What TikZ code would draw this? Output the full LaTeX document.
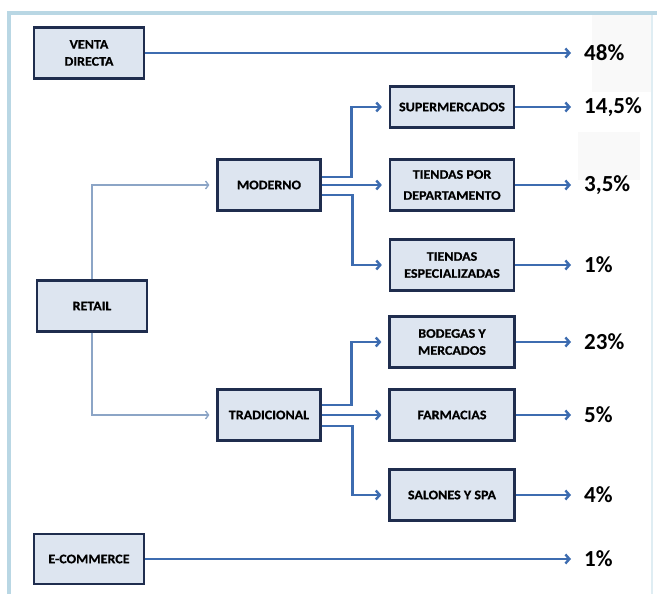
\documentclass[tikz,border=0pt]{standalone}
\usepackage{fontspec}
\setmainfont{Carlito}
\newfontfamily\boxfont[FakeStretch=1.08,FakeBold=0.6]{Carlito}
\usetikzlibrary{arrows.meta}

\definecolor{cajafondo}{HTML}{DDE5F0}
\definecolor{cajaborde}{HTML}{1F2D4E}
\definecolor{flecha}{HTML}{3D6CB0}
\definecolor{flechaclara}{HTML}{8CA5C6}
\definecolor{marco}{HTML}{B9D7E4}

\begin{document}
\begin{tikzpicture}[x=1pt, y=-1pt,
    caja/.style={draw=cajaborde, line width=2.2pt, fill=cajafondo, align=center, inner sep=0pt,
        font=\boxfont\bfseries\fontsize{13}{17}\selectfont, minimum height=51pt},
    porcentaje/.style={anchor=west, inner sep=0pt, font=\bfseries\fontsize{23}{23}\selectfont},
    gruesa/.style={draw=flecha, line width=2.4pt, -{Straight Barb[length=4pt,width=9pt,line width=2.4pt]}},
    fina/.style={draw=flechaclara, line width=1.4pt, -{Straight Barb[length=3pt,width=8pt,line width=1.4pt]}, shorten >=7pt}]
    \useasboundingbox (0,0) rectangle (657,594);

    % marco
    \fill[gray!5] (592,15) rectangle (652,92);
    \fill[gray!5] (578,132) rectangle (640,180);
    \draw[marco, line width=3.5pt] (9,594) -- (9,13) -- (657,13);
    \draw[marco!45, line width=1.5pt] (652,15) -- (652,594);

    % canales
    \node[caja, minimum width=110pt] (venta) at (89,53) {VENTA\\DIRECTA};
    \node[caja, minimum width=110pt] (retail) at (92,306) {RETAIL};
    \node[caja, minimum width=110pt, minimum height=50pt] (ecommerce) at (89,559) {E-COMMERCE};

    \node[caja, minimum width=103pt] (moderno) at (269,185) {MODERNO};
    \node[caja, minimum width=103pt] (tradicional) at (269,415) {TRADICIONAL};

    \node[caja, minimum width=124pt, minimum height=41pt] (super) at (452,107) {SUPERMERCADOS};
    \node[caja, minimum width=124pt, font=\boxfont\bfseries\fontsize{13}{21}\selectfont] (tiendasdep) at (452,185) {TIENDAS POR\\DEPARTAMENTO};
    \node[caja, minimum width=124pt] (tiendasesp) at (452,265) {TIENDAS\\ESPECIALIZADAS};
    \node[caja, minimum width=125pt] (bodegas) at (452,342) {BODEGAS Y\\MERCADOS};
    \node[caja, minimum width=125pt] (farmacias) at (452,415) {FARMACIAS};
    \node[caja, minimum width=125pt] (salones) at (452,495) {SALONES Y SPA};

    % porcentajes
    \node[porcentaje] (p48) at (584,53) {48\%};
    \node[porcentaje] (p145) at (584,107) {14,5\%};
    \node[porcentaje] (p35) at (584,185) {3,5\%};
    \node[porcentaje] (p1a) at (584,265) {1\%};
    \node[porcentaje] (p23) at (584,342) {23\%};
    \node[porcentaje] (p5) at (584,415) {5\%};
    \node[porcentaje] (p4) at (584,495) {4\%};
    \node[porcentaje] (p1b) at (584,559) {1\%};

    % retail
    \draw[fina] (retail.north) |- (moderno.west);
    \draw[fina] (retail.south) |- (tradicional.west);

    % moderno
    \draw[gruesa, shorten >=7pt] ([yshift=8pt]moderno.east) -- ++(30,0) |- (super.west);
    \draw[gruesa, shorten >=7pt] (moderno.east) -- (tiendasdep.west);
    \draw[gruesa, shorten >=7pt] ([yshift=-10pt]moderno.east) -- ++(31,0) |- (tiendasesp.west);

    % tradicional
    \draw[gruesa, shorten >=7pt] ([yshift=10pt]tradicional.east) -- ++(30,0) |- (bodegas.west);
    \draw[gruesa, shorten >=7pt] (tradicional.east) -- (farmacias.west);
    \draw[gruesa, shorten >=7pt] ([yshift=-11pt]tradicional.east) -- ++(31,0) |- (salones.west);

    % a porcentajes
    \draw[gruesa] (venta.east) -- ([xshift=-13pt]p48.west);
    \draw[gruesa] (super.east) -- ([xshift=-13pt]p145.west);
    \draw[gruesa] (tiendasdep.east) -- ([xshift=-13pt]p35.west);
    \draw[gruesa] (tiendasesp.east) -- ([xshift=-13pt]p1a.west);
    \draw[gruesa] (bodegas.east) -- ([xshift=-13pt]p23.west);
    \draw[gruesa] (farmacias.east) -- ([xshift=-13pt]p5.west);
    \draw[gruesa] (salones.east) -- ([xshift=-13pt]p4.west);
    \draw[gruesa] (ecommerce.east) -- ([xshift=-13pt]p1b.west);
\end{tikzpicture}
\end{document}
